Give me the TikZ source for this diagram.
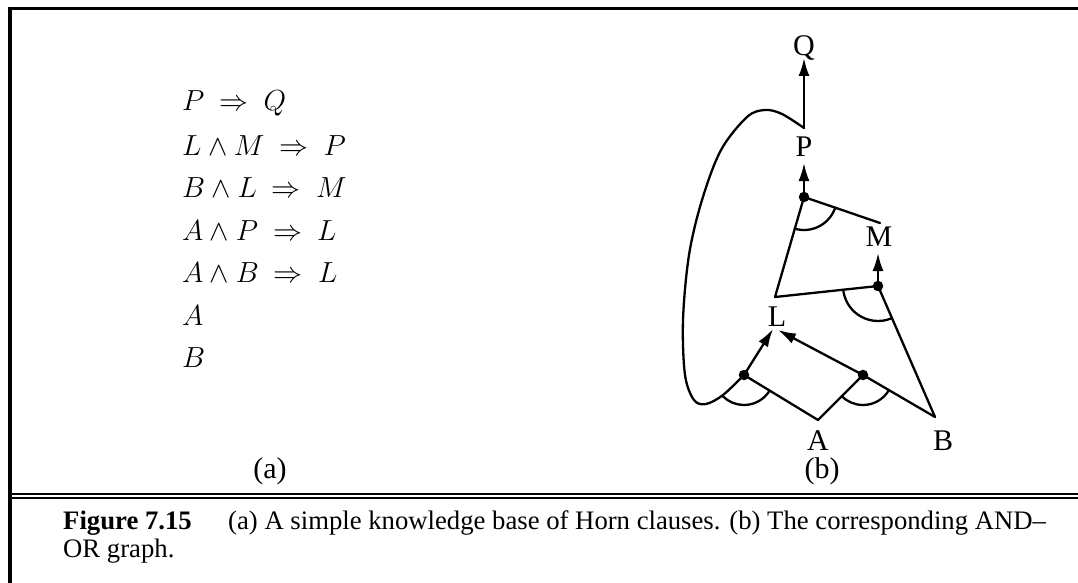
\documentclass[tikz,border=0pt]{standalone}
\usepackage{fontspec}
\setmainfont{Liberation Serif}
\usetikzlibrary{arrows.meta}
\begin{document}
\begin{tikzpicture}[x=1pt,y=-1pt,
  edge/.style={line width=2.3pt, line cap=round, line join=round},
  arr/.style={edge, -{Latex[length=18pt,width=11pt]}},
  junction/.style={circle, fill=black, inner sep=0pt, minimum size=10.5pt},
  lbl/.style={font=\fontsize{30}{30}\selectfont, inner sep=0pt, text height=20pt, text depth=0pt},
  eq/.style={font=\fontsize{24}{24}\selectfont, scale=1.1667, anchor=west, inner sep=0pt},
  captxt/.style={font=\fontsize{26.7}{30}\selectfont, anchor=base west, inner sep=0pt},
  frame/.style={line width=3.2pt}]
\useasboundingbox (0,0) rectangle (1078,583);
% frame
\draw[frame] (10,583) -- (10,8.3) -- (1078,8.3);
\draw[line width=2.3pt] (10,493.7) -- (1078,493.7);
\draw[line width=2.3pt] (10,498.2) -- (1078,498.2);
% equations
\node[eq] (e1) at (182,103) {$P \ \Rightarrow\ Q$};
\node[eq] (e2) at (182,145.5) {$L \wedge M \ \Rightarrow\ P$};
\node[eq] (e3) at (182,188) {$B \wedge L \ \Rightarrow\ M$};
\node[eq] (e4) at (182,230.5) {$A \wedge P \ \Rightarrow\ L$};
\node[eq] (e5) at (182,273) {$A \wedge B \ \Rightarrow\ L$};
\node[eq] (e6) at (182,315.5) {$A$};
\node[eq] (e7) at (182,358) {$B$};
\node[lbl] (ta) at (270,468) {(a)};
% graph labels
\node[lbl] (Q) at (804,46) {Q};
\node[lbl] (P) at (804,147) {P};
\node[lbl] (M) at (879,236) {M};
\node[lbl] (L) at (777,316) {L};
\node[lbl] (A) at (818,440) {A};
\node[lbl] (B) at (943,440) {B};
\node[lbl] (tb) at (822,468) {(b)};
% junction points
\coordinate (Qin) at (804,58);
\coordinate (Ptop) at (804,128);
\coordinate (Pin) at (804,163);
\coordinate (Min) at (878,253);
\coordinate (Mend) at (880,223);
\coordinate (Lc) at (775,297);
\coordinate (Lin1) at (773,329);
\coordinate (Lin2) at (778,330);
\coordinate (Atop) at (818,420);
\coordinate (Btop) at (935,417);
\node[junction] (Pd) at (804,197) {};
\node[junction] (Md) at (878,286) {};
\node[junction] (Ld) at (744,375) {};
\node[junction] (Rd) at (863,375) {};
% edges
\draw[arr] (Ptop) -- (Qin);
\draw[arr] (Pd.center) -- (Pin);
\draw[edge] (Pd.center) -- (Mend);
\draw[edge] (Pd.center) -- (Lc) -- (Md.center);
\draw[arr] (Md.center) -- (Min);
\draw[edge] (Md.center) -- (Btop);
\draw[arr] (Ld.center) -- (Lin1);
\draw[arr] (Rd.center) -- (Lin2);
\draw[edge] (Ld.center) -- (Atop) -- (Rd.center) -- (Btop);
% loop from P to the left AND junction
\draw[edge] plot[smooth, tension=0.55] coordinates {(Ptop) (782,114) (765,110) (747,117) (721,150) (702,200) (689,255) (683,320) (685,375) (694,400) (706,404) (723,395) (Ld.center)};
% AND arcs
\draw[edge] (Pd.center) ++(18.9:33) arc[start angle=18.9, end angle=106.2, radius=33];
\draw[edge] (Md.center) ++(66.5:35) arc[start angle=66.5, end angle=173.9, radius=35];
\draw[edge] (Ld.center) ++(31.3:30) arc[start angle=31.3, end angle=135, radius=30];
\draw[edge] (Rd.center) ++(30.3:30) arc[start angle=30.3, end angle=135, radius=30];
% caption
\node[captxt] (fig) at (63,529) {\textbf{Figure 7.15}};
\node[captxt] (c1) at (228,529) {(a) A simple knowledge base of Horn clauses. (b) The corresponding AND–};
\node[captxt] (c2) at (63,557) {OR graph.};
\end{tikzpicture}
\end{document}
